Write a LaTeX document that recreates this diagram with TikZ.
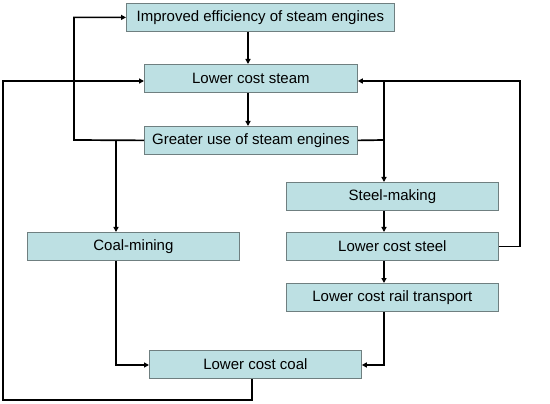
\documentclass[tikz,border=0pt]{standalone}
\usepackage{fontspec}
\setmainfont{Liberation Sans}
\usetikzlibrary{arrows.meta}
\definecolor{boxfill}{HTML}{BDE0E3}
\definecolor{boxline}{HTML}{6F7F80}
\begin{document}
\begin{tikzpicture}[x=1pt,y=-1pt,
  box/.style={draw=boxline,line width=0.8pt,fill=boxfill,inner sep=0pt,
    minimum height=28pt,font=\fontsize{15}{17}\selectfont,anchor=north west},
  link/.style={line width=1.7pt,-{Triangle[length=5pt,width=5pt]}},
  plain/.style={line width=1.7pt}]
\useasboundingbox (0,0) rectangle (550,404);
\node[box,minimum width=268pt] (imp) at (126,3) {Improved efficiency of steam engines};
\node[box,minimum width=213pt] (steam) at (144,64) {Lower cost steam};
\node[box,minimum width=213pt] (use) at (144,126) {Greater use of steam engines};
\node[box,minimum width=212pt] (smk) at (286,182) {Steel-making};
\node[box,minimum width=212pt] (mine) at (27,232) {Coal-mining};
\node[box,minimum width=212pt] (steel) at (286,232) {Lower cost steel};
\node[box,minimum width=212pt] (rail) at (286,283) {Lower cost rail transport};
\node[box,minimum width=212pt] (coal) at (149,350) {Lower cost coal};
\coordinate (jl) at (74,140);
\coordinate (jr) at (384,140);
\coordinate (jt) at (384,81);
\coordinate (jm) at (116,140);
\coordinate (rr) at (520,81);
\coordinate (bl) at (3,400);
% left loop to improved
\draw[link] (use.west) -- (jl) |- (imp.west);
\draw[link] (imp.south -| 248,0) -- (steam.north -| 248,0);
\draw[link] (steam.south -| 248,0) -- (use.north -| 248,0);
% right junction
\draw[plain] (use.east) -- (jr) -- (jt);
\draw[link] (jr) -- (smk.north -| jr);
\draw[link] (smk.south -| jr) -- (steel.north -| jr);
\draw[link] (steel.south -| jr) -- (rail.north -| jr);
\draw[link] (steel.east) -| (rr) -- (steam.east |- jt);
% coal mining
\draw[link] (jm) -- (mine.north -| jm);
\draw[link] (mine.south -| jm) |- (coal.west |- 0,365);
\draw[link] (rail.south -| jr) |- (coal.east |- 0,365);
% bottom loop
\draw[link] (coal.south -| 252,0) |- (bl) |- (steam.west |- jt);
\end{tikzpicture}
\end{document}
